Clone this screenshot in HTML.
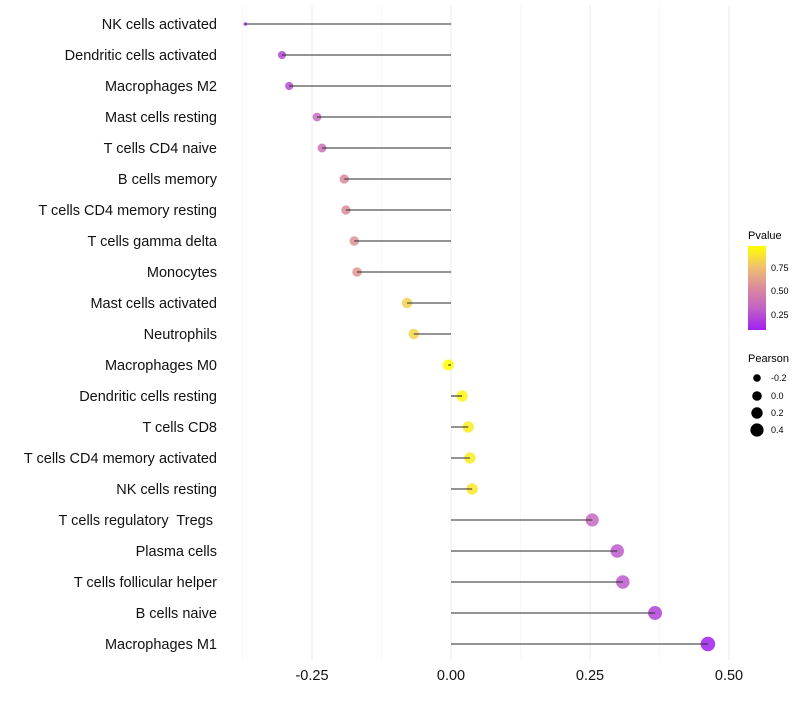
<!DOCTYPE html>
<html><head><meta charset="utf-8"><style>
body{margin:0;background:#fff;font-family:"Liberation Sans",sans-serif}
text{white-space:pre}
</style></head><body>
<svg id="chart" width="800" height="700" font-family="Liberation Sans, sans-serif">
<defs><linearGradient id="pg" x1="0" y1="1" x2="0" y2="0">
<stop offset="0" stop-color="#a020f0"/><stop offset="0.25" stop-color="#c060c8"/><stop offset="0.5" stop-color="#db8a9c"/><stop offset="0.75" stop-color="#f0c070"/><stop offset="1" stop-color="#ffff00"/></linearGradient></defs>
<g id="grid"></g><g id="pts"></g><g id="segs"></g><g id="labels"></g><g id="xticks"></g>
<g>
<text x="748" y="239" font-size="11">Pvalue</text>
<rect x="748" y="246" width="18" height="84" fill="url(#pg)"/>
<text x="771" y="271" font-size="9">0.75</text>
<text x="771" y="294" font-size="9">0.50</text>
<text x="771" y="318" font-size="9">0.25</text>
</g>
<g>
<text x="748" y="362" font-size="11">Pearson</text>
<circle cx="757" cy="378" r="3.8"/><text x="771" y="381" font-size="9">-0.2</text>
<circle cx="757" cy="396" r="4.8"/><text x="771" y="399" font-size="9">0.0</text>
<circle cx="757" cy="413" r="5.7"/><text x="771" y="416" font-size="9">0.2</text>
<circle cx="757" cy="430" r="6.6"/><text x="771" y="433" font-size="9">0.4</text>
</g>
</svg>
<script>
const categories=["NK cells activated","Dendritic cells activated","Macrophages M2","Mast cells resting","T cells CD4 naive","B cells memory","T cells CD4 memory resting","T cells gamma delta","Monocytes","Mast cells activated","Neutrophils","Macrophages M0","Dendritic cells resting","T cells CD8","T cells CD4 memory activated","NK cells resting","T cells regulatory  Tregs ","Plasma cells","T cells follicular helper","B cells naive","Macrophages M1"];
const pearson=[-0.370,-0.304,-0.291,-0.241,-0.232,-0.192,-0.189,-0.174,-0.169,-0.079,-0.067,-0.005,0.020,0.031,0.034,0.038,0.254,0.299,0.309,0.367,0.462];
const pvalue=[0.10,0.20,0.22,0.35,0.38,0.50,0.52,0.55,0.57,0.80,0.82,0.97,0.93,0.90,0.90,0.88,0.33,0.27,0.26,0.18,0.06];
const tickValues=[-0.25,0,0.25,0.5];
const tickLabels=["-0.25","0.00","0.25","0.50"];
const minorTicks=[-0.375,-0.125,0.125,0.375];
const NS="http://www.w3.org/2000/svg";
const x=v=>451+v*556;
const y=i=>24+i*31;
const r=v=>v<-0.35?1.8:Math.sqrt(Math.max(1,31+48*v));
const stops=[[160,32,240],[192,96,200],[219,138,156],[240,192,112],[255,255,0]];
function col(p){const t=Math.min(1,Math.max(0,(p-0.06)/0.91))*4;const i=Math.min(3,Math.floor(t)),f=t-i;
const c=stops[i].map((a,k)=>Math.round(a+(stops[i+1][k]-a)*f));return `rgb(${c})`;}
function mk(tag,attrs,parent){const e=document.createElementNS(NS,tag);for(const k in attrs)e.setAttribute(k,attrs[k]);document.getElementById(parent).appendChild(e);return e;}
minorTicks.forEach(v=>{const e=mk('line',{x1:x(v),x2:x(v),y1:5,y2:660,stroke:'#f2f2f2','stroke-width':0.6},'grid');

});
tickValues.forEach((v,i)=>{const e=mk('line',{x1:x(v),x2:x(v),y1:5,y2:660,stroke:'#ebebeb','stroke-width':1},'grid');


const t=mk('text',{x:x(v),y:680,'font-size':14.5,'text-anchor':'middle',fill:'#111'},'xticks');t.textContent=tickLabels[i];

});
categories.forEach((c,i)=>{
const p=mk('circle',{cx:x(pearson[i]),cy:y(i),r:r(pearson[i]),fill:col(pvalue[i]),'fill-opacity':0.85},'pts');


const s=mk('line',{x1:x(0),x2:x(pearson[i]),y1:y(i),y2:y(i),stroke:'#2a2a2a','stroke-width':1.1},'segs');


const t=mk('text',{x:217,y:y(i)+5,'font-size':14.5,'text-anchor':'end',fill:'#111'},'labels');t.textContent=c;


});
</script>
</body></html>
